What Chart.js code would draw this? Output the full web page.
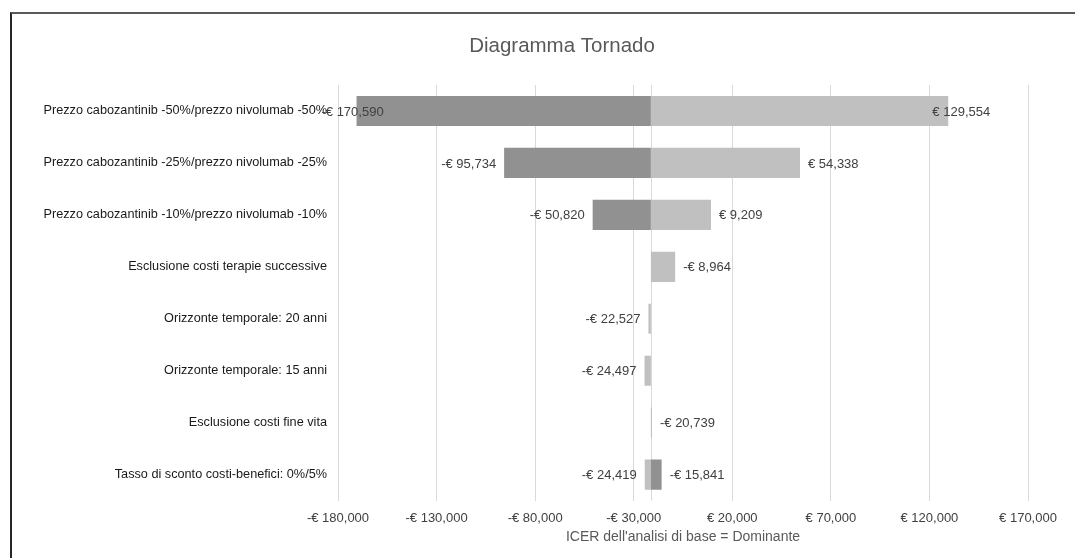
<!DOCTYPE html>
<html lang="it">
<head>
<meta charset="utf-8">
<title>Diagramma Tornado</title>
<script src="https://cdn.jsdelivr.net/npm/chart.js@4"></script>
<style>
  html, body { margin: 0; padding: 0; background: #fff; overflow: hidden; }
  #frame {
    position: absolute; left: 10px; top: 12px; width: 1200px; height: 700px;
    border-top: 2px solid #5a5a5a; border-left: 2px solid #262626;
  }
  #wrap { position: absolute; left: 0; top: 0; width: 1124px; height: 558px; }
</style>
</head>
<body>
<div id="frame"></div>
<div id="wrap"><canvas id="tornado"></canvas></div>
<script>
// Scenari dell'analisi di sensibilità (dall'alto verso il basso)
const categories = [
    'Prezzo cabozantinib -50%/prezzo nivolumab -50%',
    'Prezzo cabozantinib -25%/prezzo nivolumab -25%',
    'Prezzo cabozantinib -10%/prezzo nivolumab -10%',
    'Esclusione costi terapie successive',
    'Orizzonte temporale: 20 anni',
    'Orizzonte temporale: 15 anni',
    'Esclusione costi fine vita',
    'Tasso di sconto costi-benefici: 0%/5%'
];

// ICER del caso base (le barre partono da qui)
const baseIcer = -21300;

// serie scura e serie chiara (estremo della barra, null = nessuna barra)
const darkValues = [-170590, -95734, -50820, null, null, null, null, -15841];
const lightValues = [129554, 54338, 9209, -8964, -22527, -24497, -20739, -24419];

// asse x
const axisMin = -180000;
const axisMax = 170000;
const axisStep = 50000;

const chartTitle = 'Diagramma Tornado';

function euro(v) {
    const s = Math.abs(Math.round(v)).toLocaleString('en-US');
    return (v < 0 ? '-€ ' : '€ ') + s;
}

function toFloating(values) {
    return values.map(v => v === null ? null : [baseIcer, v]);
}

const FONT = "'Liberation Sans', Arial, sans-serif";

// titolo centrato sul riquadro (non sull'area del grafico)
const titlePlugin = {
    id: 'frameTitle',
    afterDraw(chart) {
        const { ctx } = chart;
        ctx.save();
        ctx.font = '20.5px ' + FONT;
        ctx.fillStyle = '#595959';
        ctx.textAlign = 'center';
        ctx.textBaseline = 'middle';
        ctx.fillText(chartTitle, chart.width / 2, 46);
        ctx.restore();
    }
};

// linea verticale sul valore del caso base
const baseLinePlugin = {
    id: 'baseLine',
    beforeDatasetsDraw(chart) {
        const { ctx, chartArea, scales } = chart;
        const x = Math.round(scales.x.getPixelForValue(baseIcer)) + 0.5;
        ctx.save();
        ctx.strokeStyle = '#d9d9d9';
        ctx.lineWidth = 1;
        ctx.beginPath();
        ctx.moveTo(x, chartArea.top);
        ctx.lineTo(x, chartArea.bottom);
        ctx.stroke();
        ctx.restore();
    }
};

// etichette dei valori alla fine di ogni barra
const valueLabelPlugin = {
    id: 'valueLabels',
    afterDatasetsDraw(chart) {
        const { ctx, scales } = chart;
        const basePx = scales.x.getPixelForValue(baseIcer);
        ctx.save();
        ctx.font = '13px ' + FONT;
        ctx.fillStyle = '#404040';
        ctx.textBaseline = 'middle';
        chart.data.datasets.forEach((ds, di) => {
            const meta = chart.getDatasetMeta(di);
            meta.data.forEach((bar, i) => {
                const raw = ds.data[i];
                if (raw === null) return;
                const end = raw[1];
                const x = scales.x.getPixelForValue(end);
                const txt = euro(end);
                const long = Math.abs(x - basePx) > 200;
                if (end < baseIcer) {
                    if (long) {
                        ctx.textAlign = 'center';
                        ctx.fillText(txt, x - 4, bar.y + 1);
                    } else {
                        ctx.textAlign = 'right';
                        ctx.fillText(txt, x - 8, bar.y + 1);
                    }
                } else {
                    if (long) {
                        ctx.textAlign = 'center';
                        ctx.fillText(txt, x + 13, bar.y + 1);
                    } else {
                        ctx.textAlign = 'left';
                        ctx.fillText(txt, x + 8, bar.y + 1);
                    }
                }
            });
        });
        ctx.restore();
    }
};

new Chart(document.getElementById('tornado'), {
    type: 'bar',
    data: {
        labels: categories,
        datasets: [
            {
                label: 'Serie scura',
                data: toFloating(darkValues),
                backgroundColor: '#919191',
                grouped: false,
                barPercentage: 0.58,
                categoryPercentage: 1
            },
            {
                label: 'Serie chiara',
                data: toFloating(lightValues),
                backgroundColor: '#c0c0c0',
                grouped: false,
                barPercentage: 0.58,
                categoryPercentage: 1
            }
        ]
    },
    options: {
        indexAxis: 'y',
        responsive: true,
        maintainAspectRatio: false,
        animation: false,
        layout: { padding: { left: 0, right: 96, top: 85, bottom: 12 } },
        plugins: {
            legend: { display: false },
            tooltip: { enabled: false },
            title: { display: false }
        },
        scales: {
            x: {
                min: axisMin,
                max: axisMax,
                border: { display: false },
                grid: { color: '#d9d9d9', drawTicks: false },
                ticks: {
                    stepSize: axisStep,
                    padding: 10,
                    color: '#404040',
                    font: { family: FONT, size: 13 },
                    callback: v => euro(v)
                },
                title: {
                    display: true,
                    text: "ICER dell'analisi di base = Dominante",
                    color: '#595959',
                    font: { family: FONT, size: 14 },
                    padding: { top: -7, bottom: 0 }
                }
            },
            y: {
                border: { display: false },
                grid: { display: false, drawTicks: false },
                ticks: {
                    padding: 11,
                    color: '#1a1a1a',
                    font: { family: FONT, size: 12.7 }
                },
                afterFit(scale) { scale.width = 338; }
            }
        }
    },
    plugins: [baseLinePlugin, valueLabelPlugin, titlePlugin]
});
</script>
</body>
</html>
